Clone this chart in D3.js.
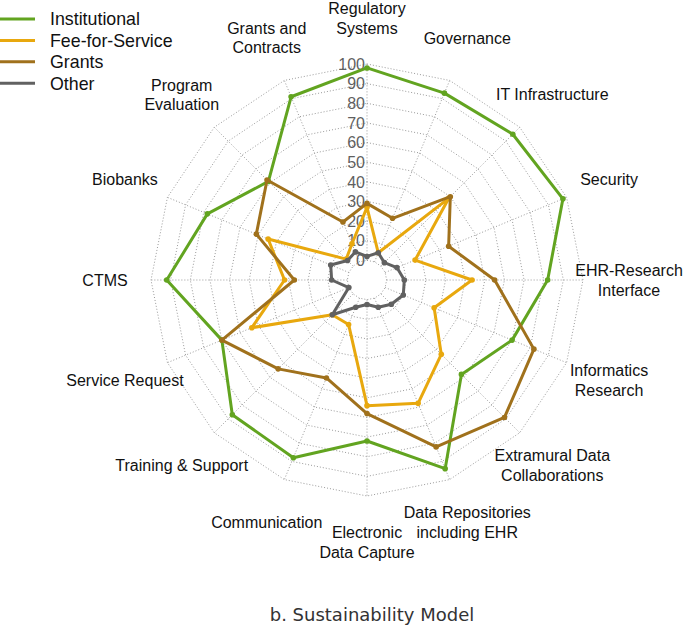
<!DOCTYPE html>
<html>
<head>
<meta charset="utf-8">
<script src="https://cdn.jsdelivr.net/npm/d3@7"></script>
<style>
  html, body { margin: 0; padding: 0; background: #fff; }
  svg { display: block; }
</style>
</head>
<body>
<svg id="chart" width="688" height="626"></svg>
<script>
const categories = [
  "Regulatory\nSystems", "Governance", "IT Infrastructure", "Security",
  "EHR-Research\nInterface", "Informatics\nResearch", "Extramural Data\nCollaborations",
  "Data Repositories\nincluding EHR", "Electronic\nData Capture", "Communication",
  "Training & Support", "Service Request", "CTMS", "Biobanks",
  "Program\nEvaluation", "Grants and\nContracts"
];
const seriesNames = ["Institutional", "Fee-for-Service", "Grants", "Other"];
const institutional = [98, 93, 95, 98, 82, 70, 58, 94, 72, 88, 87, 70, 92, 78, 61, 91];
const feeForService = [27, 5, 49, 16.5, 43.5, 27, 43.5, 58, 54, 14.5, 15, 53.5, 32, 44.5, 5, 10];
const grants = [29, 24, 50, 35, 55, 82, 89, 82, 58, 44, 54, 70, 27, 51, 62, 22];
const other = [2, 5, 2.5, 6.5, 9, 10, 7.5, 5, 2.5, 5, 15, 0, 8, 10, 4, 5.5];
const tickValues = [0, 10, 20, 30, 40, 50, 60, 70, 80, 90, 100];
const title = "b. Sustainability Model";

const colors = ["#62a420", "#e8a80e", "#a0711c", "#616161"];
const seriesData = [institutional, feeForService, grants, other];

const svg = d3.select("#chart");
const cx = 367, cy = 280;
const rScale = d3.scaleLinear().domain([-10, 100]).range([0, 216]);
const n = categories.length;
const angle = d3.scaleLinear().domain([0, n]).range([0, 2 * Math.PI]);
const pt = (i, v) => {
  const a = angle(i), r = rScale(v);
  return [cx + r * Math.sin(a), cy - r * Math.cos(a)];
};

const g = svg.append("g");

// grid rings (16-gon)
tickValues.forEach(t => {
  const pts = d3.range(n).map(i => pt(i, t));
  g.append("path")
    .attr("d", d3.line().curve(d3.curveLinearClosed)(pts))
    .attr("fill", "none").attr("stroke", "#9a9a9a")
    .attr("stroke-width", 1).attr("stroke-dasharray", "1,2");
});
// spokes
d3.range(n).forEach(i => {
  const [x0, y0] = pt(i, 0), [x1, y1] = pt(i, 100);
  g.append("line").attr("x1", x0).attr("y1", y0).attr("x2", x1).attr("y2", y1)
    .attr("stroke", "#9a9a9a").attr("stroke-width", 1).attr("stroke-dasharray", "1,2");
});

// tick labels
g.selectAll("text.tick").data(tickValues).enter().append("text")
  .attr("class", "tick")
  .attr("x", cx - 2)
  .attr("y", d => cy - rScale(d))
  .attr("dy", "0.36em")
  .attr("text-anchor", "end")
  .attr("font-family", "Liberation Sans, Arial, sans-serif")
  .attr("font-size", 16)
  .attr("fill", "#5f5f5f")
  .text(d => d);

// category labels
const labelR = 262, lineH = 19.5;
categories.forEach((c, i) => {
  const a = angle(i);
  const x = cx + labelR * Math.sin(a), y = cy - labelR * Math.cos(a);
  const lines = c.split("\n");
  const t = g.append("text")
    .attr("text-anchor", "middle")
    .attr("font-family", "Liberation Sans, Arial, sans-serif")
    .attr("font-size", 16)
    .attr("fill", "#111");
  lines.forEach((ln, k) => {
    t.append("tspan").attr("x", x)
      .attr("y", y + (k - (lines.length - 1) / 2) * lineH)
      .attr("dy", "0.36em").text(ln);
  });
});

// series
seriesData.forEach((vals, s) => {
  const pts = vals.map((v, i) => pt(i, v));
  g.append("path")
    .attr("d", d3.line().curve(d3.curveLinearClosed)(pts))
    .attr("fill", "none").attr("stroke", colors[s])
    .attr("stroke-width", 3).attr("stroke-linejoin", "round");
  g.selectAll(null).data(pts).enter().append("circle")
    .attr("cx", d => d[0]).attr("cy", d => d[1]).attr("r", 2.8)
    .attr("fill", colors[s]);
});

// legend
const lg = svg.append("g");
seriesNames.forEach((name, s) => {
  const y = 19 + s * 21.4;
  lg.append("line").attr("x1", 0).attr("x2", 35).attr("y1", y).attr("y2", y)
    .attr("stroke", colors[s]).attr("stroke-width", 3);
  lg.append("text").attr("x", 50).attr("y", y).attr("dy", "0.36em")
    .attr("font-family", "Liberation Sans, Arial, sans-serif")
    .attr("font-size", 17.8).attr("fill", "#111").text(name);
});

// title
svg.append("text")
  .attr("x", 372).attr("y", 615).attr("dy", "0.36em")
  .attr("text-anchor", "middle")
  .attr("font-family", "DejaVu Sans, Verdana, sans-serif")
  .attr("font-size", 18).attr("fill", "#333")
  .text(title);
</script>
</body>
</html>
